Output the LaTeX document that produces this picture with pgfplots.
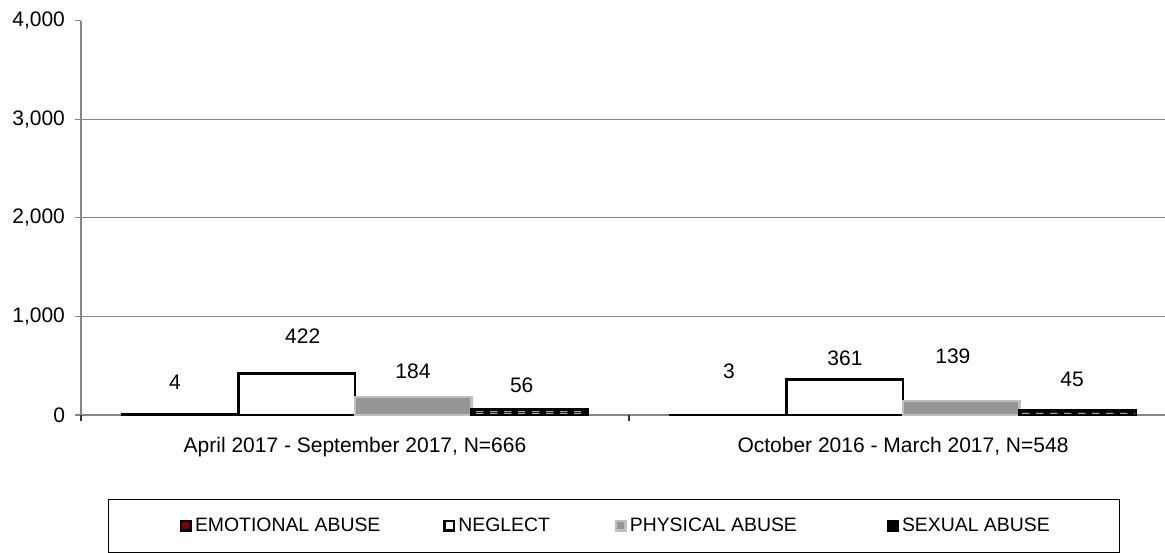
\documentclass[border=0pt]{standalone}
\usepackage{fontspec}
\setmainfont{Liberation Sans}
\usepackage{pgfplots}
\pgfplotsset{compat=1.18}
\usetikzlibrary{patterns}
\definecolor{emo}{HTML}{800000}
\definecolor{phys}{HTML}{969696}
\definecolor{physb}{HTML}{C0C0C0}
\definecolor{gridc}{HTML}{868686}
\pgfdeclarepatternformonly{hdash}{\pgfpointorigin}{\pgfpoint{7pt}{1.1pt}}{\pgfpoint{7pt}{1.1pt}}%
  {\pgfpathrectangle{\pgfpoint{0pt}{0.3pt}}{\pgfpoint{4pt}{0.5pt}}\pgfusepath{fill}}
\pgfplotsset{mylegend/.style={legend image code/.code={%
  \draw[##1, line width=1.3pt] (0.65pt,-2.35pt) rectangle (5.35pt,2.35pt);
  \path (0pt,0pt) (7pt,0pt);}}}
\begin{document}
\begin{tikzpicture}
\useasboundingbox (-40.5pt,-68.5pt) rectangle (542pt,207.5pt);
\clip (-40.5pt,-68.5pt) rectangle (542pt,207.5pt);
\begin{axis}[
  at={(0pt,0pt)}, anchor=south west,
  scale only axis, width=548pt, height=197.25pt,
  xmin=-0.5, xmax=1.5, ymin=0, ymax=4000,
  axis lines*=left,
  axis line style={draw=gridc, line width=0.6pt},
  xtick={0,1},
  xticklabels={{April 2017 - September 2017, N=666},{October 2016 - March 2017, N=548}},
  xtick style={draw=none},
  extra x ticks={-0.5,0.5,1.5}, extra x tick labels={},
  extra x tick style={xtick style={draw=black!80, line width=0.6pt}},
  ytick={0,1000,2000,3000,4000},
  ytick style={draw=gridc, line width=0.6pt},
  major tick length=3pt, tick align=outside,
  extra y ticks={1000,2000,3000}, extra y tick labels={},
  extra y tick style={grid=major, major grid style={draw=gridc, line width=0.6pt}},
  ticklabel style={font=\fontsize{10.5}{12}\selectfont},
  xticklabel style={yshift=-4.5pt},
  yticklabel style={xshift=-1.5pt},
  /pgf/number format/1000 sep={,},
  /pgf/number format/assume math mode=true,
  legend style={at={(0.02464,-0.2129)}, anchor=north west, draw=black, line width=0.6pt,
    inner xsep=35pt, inner ysep=9pt, font=\fontsize{9.7}{11.6}\selectfont,
    /tikz/column sep=0pt, nodes={inner sep=0pt}},
  legend columns=4,
]
\addplot[ybar, bar width=0.2126, bar shift=0pt, fill=emo, draw=black, line width=1.2pt, mylegend]
  coordinates {(-0.319,4) (0.681,3)};
\addlegendentry{\makebox[123.5pt][l]{EMOTIONAL ABUSE}}
\addplot[ybar, bar width=0.2126, bar shift=0pt, fill=white, draw=black, line width=1.2pt, mylegend]
  coordinates {(-0.1063,422) (0.8937,361)};
\addlegendentry{\makebox[77.5pt][l]{NEGLECT}}
\addplot[ybar, bar width=0.2126, bar shift=0pt, fill=phys, draw=physb, line width=1.2pt, mylegend]
  coordinates {(0.1063,184) (1.1063,139)};
\addlegendentry{\makebox[128pt][l]{PHYSICAL ABUSE}}
\addplot[ybar, bar width=0.2126, bar shift=0pt, fill=black, draw=black, line width=1.1pt,
  postaction={pattern=hdash, pattern color=white}, mylegend]
  coordinates {(0.319,56) (1.319,45)};
\addlegendentry{SEXUAL ABUSE}
\addplot[forget plot, draw=none, mark=none, nodes near coords, point meta=explicit symbolic,
  nodes near coords style={anchor=center, inner sep=0pt, text=black, font=\fontsize{10.5}{12}\selectfont}]
  coordinates {(-0.3285,328)[4] (-0.0954,801)[422] (0.1058,439)[184] (0.3042,304)[56]
               (0.6825,446)[3] (0.894,578)[361] (1.091,598)[139] (1.3084,360)[45]};
\end{axis}
\end{tikzpicture}
\end{document}
